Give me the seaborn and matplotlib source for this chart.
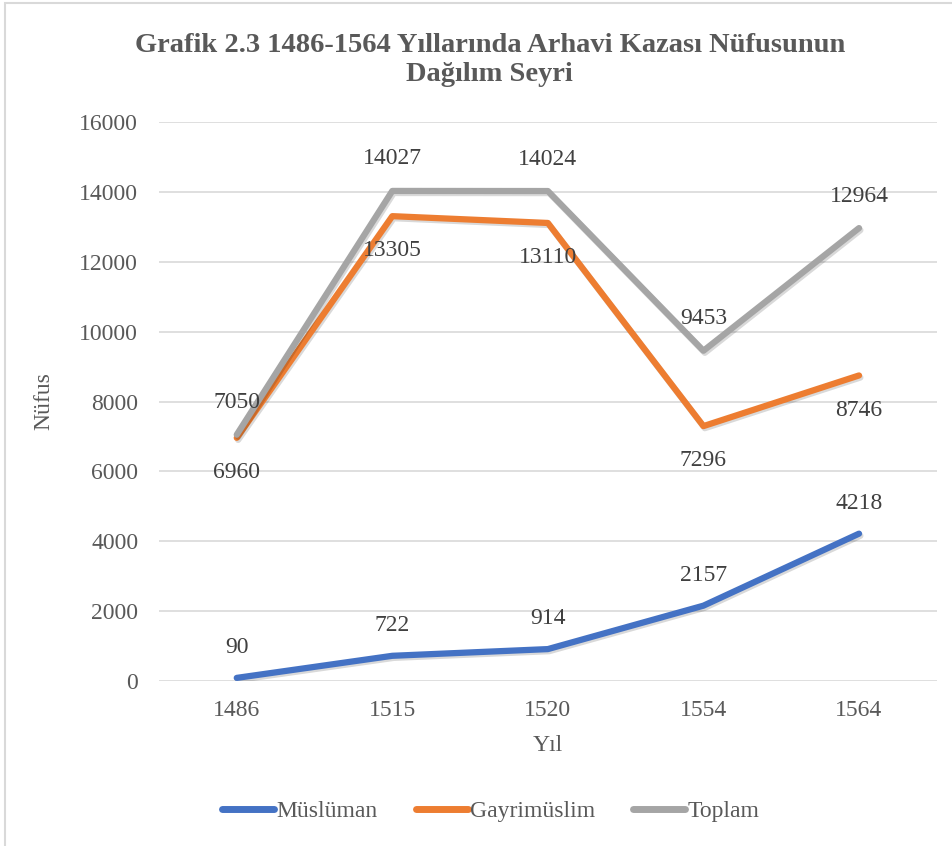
import matplotlib
matplotlib.use("Agg")
import matplotlib.pyplot as plt
import matplotlib.patheffects as pe
import seaborn as sns
import pandas as pd

# data
years=["1486","1515","1520","1554","1564"]
muslim=[90,722,914,2157,4218]
gayri=[6960,13305,13110,7296,8746]
toplam=[7050,14027,14024,9453,12964]
series_names=["Müslüman","Gayrimüslim","Toplam"]

df=pd.DataFrame({"Yıl":years*3,
                 "Nüfus":muslim+gayri+toplam,
                 "Seri":[series_names[0]]*5+[series_names[1]]*5+[series_names[2]]*5})

sns.set_theme(style="white")
plt.rcParams["font.family"]=["Liberation Serif","DejaVu Serif"]

colors={"Müslüman":"#4472C4","Gayrimüslim":"#ED7D31","Toplam":"#A5A5A5"}
txt="#595959"

fig=plt.figure(figsize=(9.53,8.46),dpi=100)
ax=fig.add_axes([0.1668,0.195,0.8162,0.6608])

sns.lineplot(data=df,x="Yıl",y="Nüfus",hue="Seri",palette=colors,
             linewidth=4.5,legend=False,ax=ax,sort=False)
shadow=[pe.SimpleLineShadow(offset=(1,-1.5),shadow_color="black",alpha=0.15),pe.Normal()]
for ln in ax.lines:
    ln.set_solid_capstyle("round")
    ln.set_solid_joinstyle("round")
    ln.set_path_effects(shadow)

ax.set_ylim(0,16000)
ax.set_xlim(-0.5,4.5)
ax.set_yticks(range(0,16001,2000))
ax.grid(axis="y",color="#D9D9D9",linewidth=1.2)
ax.set_axisbelow(True)
for s in ax.spines.values():
    s.set_visible(False)
ax.tick_params(axis="both",length=0,labelsize=17,colors=txt,pad=15)
ax.tick_params(axis="x",pad=14)
ax.set_xlabel("Yıl",fontsize=17,color=txt,labelpad=10)
ax.set_ylabel("Nüfus",fontsize=17,color=txt,labelpad=18)

# data labels
lab_col="#404040"
for i,v in enumerate(muslim):
    ax.annotate(str(v),(i,v),xytext=(0,22),textcoords="offset points",ha="center",va="center",fontsize=17,color=lab_col)
for i,v in enumerate(gayri):
    ax.annotate(str(v),(i,v),xytext=(0,-25),textcoords="offset points",ha="center",va="center",fontsize=17,color=lab_col)
for i,v in enumerate(toplam):
    ax.annotate(str(v),(i,v),xytext=(0,23),textcoords="offset points",ha="center",va="center",fontsize=17,color=lab_col)

fig.suptitle("Grafik 2.3 1486-1564 Yıllarında Arhavi Kazası Nüfusunun\nDağılım Seyri",
             x=0.514,y=0.929,va="center",fontsize=20.5,fontweight="bold",color=txt,linespacing=1.25)

handles=[plt.Line2D([],[],color=colors[n],linewidth=5,solid_capstyle="round") for n in series_names]
fig.legend(handles,series_names,loc="center",bbox_to_anchor=(0.515,0.041),ncol=3,frameon=False,
           fontsize=17,handlelength=2.2,handletextpad=0.1,columnspacing=1.6,labelcolor=txt)

fig.patches.append(plt.Rectangle((0.005,-0.01),1.2,1.007,transform=fig.transFigure,
                                 fill=False,edgecolor="#D9D9D9",linewidth=1.5))

fig.savefig("out.png",dpi=100)
